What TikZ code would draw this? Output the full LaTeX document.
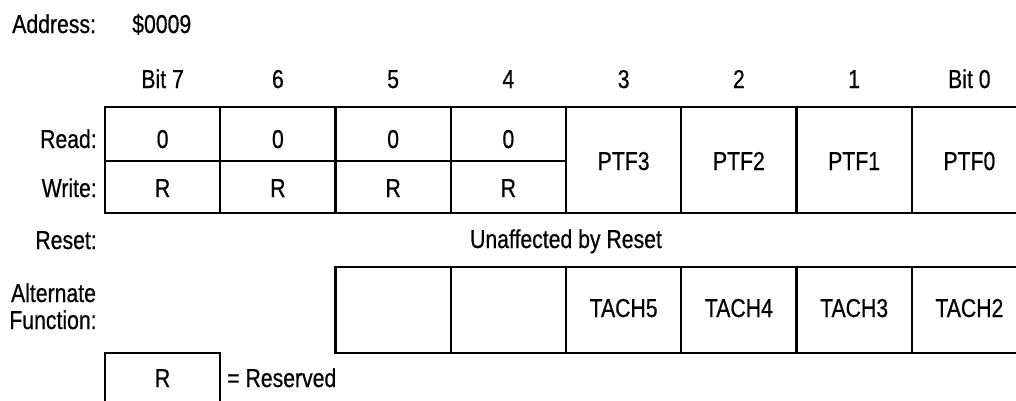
\documentclass[tikz,border=0pt]{standalone}
\usepackage{fontspec}
\setmainfont{Liberation Sans}[FakeStretch=0.82,FakeBold=0.6]
\begin{document}
\begin{tikzpicture}[x=0.75pt,y=-0.75pt,
  cell/.style={draw=black,line width=1.8pt,inner sep=0pt,minimum width=86.44pt},
  txt/.style={anchor=base,inner sep=0pt,font=\fontsize{19.4}{23}\selectfont},
  lbl/.style={txt,anchor=base east}]
\useasboundingbox (0,0) rectangle (1016,400);
\clip (0,0) rectangle (1016,400);
% title
\node[txt,anchor=base west] (addr) at (12,33) {Address:};
\node[txt,anchor=base west] (addrv) at (132,33) {\$0009};
% headers
\foreach \k/\t in {0/Bit 7,1/6,2/5,3/4,4/3,5/2,6/1,7/Bit 0}{
  \node[txt] (h\k) at ({105+115.25*(\k+0.5)},88) {\t};
}
% row labels
\node[lbl] (lread) at (97,148) {Read:};
\node[lbl] (lwrite) at (97,197) {Write:};
\node[lbl] (lreset) at (97,249) {Reset:};
\node[txt] (lalt1) at (53.5,302) {Alternate};
\node[txt] (lalt2) at (53,329) {Function:};
% read/write cells bits 7..4
\foreach \k in {0,1,2,3}{
  \node[cell,minimum height=40.5pt] (rd\k) at ({105+115.25*(\k+0.5)},134) {};
  \node[cell,minimum height=39pt] (wr\k) at ({105+115.25*(\k+0.5)},187) {};
  \node[txt] (rdt\k) at ({105+115.25*(\k+0.5)},148) {0};
  \node[txt] (wrt\k) at ({105+115.25*(\k+0.5)},197) {R};
}
% PTF cells bits 3..0
\foreach \k/\t in {4/PTF3,5/PTF2,6/PTF1,7/PTF0}{
  \node[cell,minimum height=79.5pt] (ptf\k) at ({105+115.25*(\k+0.5)},160) {};
  \node[txt] (ptft\k) at ({105+115.25*(\k+0.5)},170) {\t};
}
% reset
\node[txt] (unaff) at (566,248) {Unaffected by Reset};
% alternate function
\foreach \k/\t in {2/,3/,4/TACH5,5/TACH4,6/TACH3,7/TACH2}{
  \node[cell,minimum height=64.5pt] (alt\k) at ({105+115.25*(\k+0.5)},310) {};
  \node[txt] (altt\k) at ({105+115.25*(\k+0.5)},317) {\t};
}
% legend
\node[cell,minimum height=42.75pt] (rbox) at (162.6,381.5) {};
\node[txt] (rboxt) at (162.6,387) {R};
\node[txt,anchor=base west] (rlegend) at (227,387) {= Reserved};
\end{tikzpicture}
\end{document}
